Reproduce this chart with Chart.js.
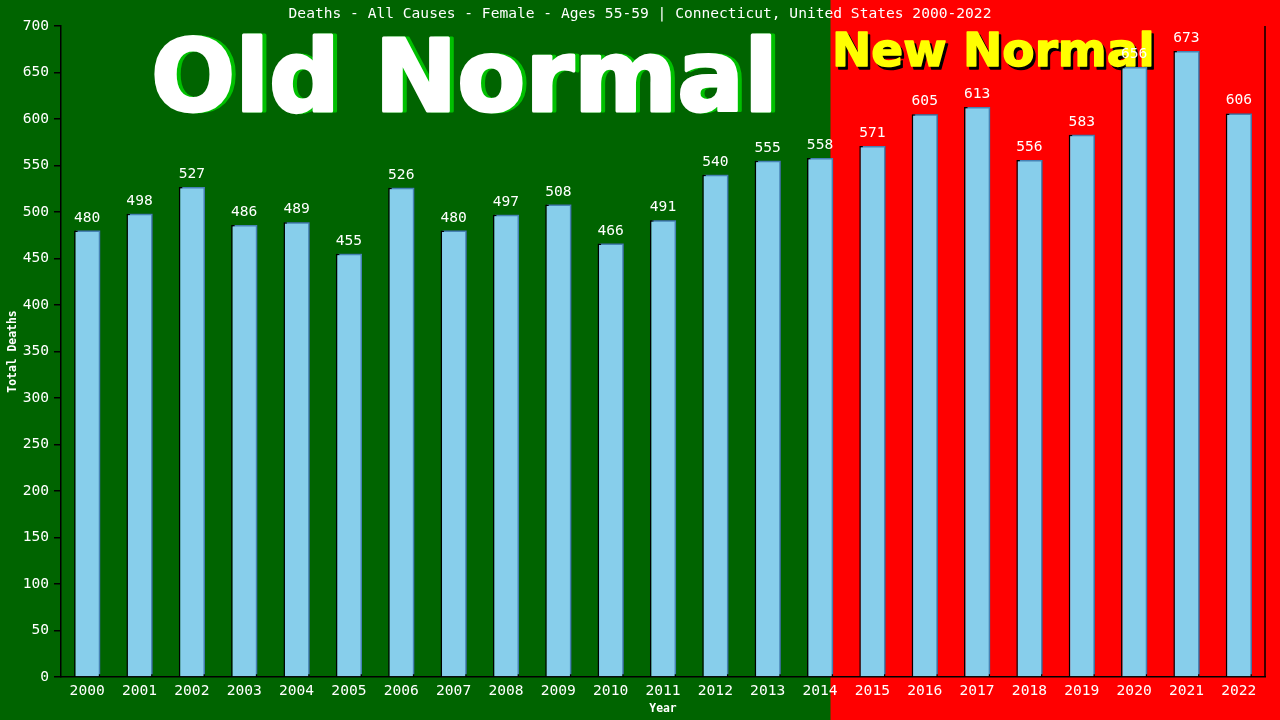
<!DOCTYPE html>
<html>
<head>
<meta charset="utf-8">
<script src="https://cdn.jsdelivr.net/npm/chart.js@4"></script>
<style>
  html, body { margin: 0; padding: 0; background: #006400; }
  #wrap { width: 1280px; height: 720px; position: relative; }
</style>
</head>
<body>
<div id="wrap"><canvas id="c" width="1280" height="720"></canvas></div>
<script>
const years = ['2000','2001','2002','2003','2004','2005','2006','2007','2008','2009','2010','2011','2012','2013','2014','2015','2016','2017','2018','2019','2020','2021','2022'];
const deaths = [480,498,527,486,489,455,526,480,497,508,466,491,540,555,558,571,605,613,556,583,656,673,606];
const yTicks = [0,50,100,150,200,250,300,350,400,450,500,550,600,650,700];
const titleText = 'Deaths - All Causes - Female - Ages 55-59 | Connecticut, United States 2000-2022';
const oldLabel = 'Old Normal';
const newLabel = 'New Normal';
const splitIndex = 14.2;

const MONO = '"DejaVu Sans Mono", "Liberation Mono", monospace';
const SANSB = '"DejaVu Sans", Verdana, sans-serif';

function heavyText(ctx, text, x, y, color, w) {
  ctx.fillStyle = color;
  ctx.strokeStyle = color;
  ctx.lineWidth = w;
  ctx.lineJoin = 'round';
  ctx.strokeText(text, x, y);
  ctx.fillText(text, x, y);
}

const bgPlugin = {
  id: 'bg',
  beforeDraw(chart) {
    const ctx = chart.ctx;
    const x = chart.scales.x;
    const split = x.getPixelForValue(splitIndex);
    ctx.save();
    ctx.fillStyle = '#006400';
    ctx.fillRect(0, 0, split, chart.height);
    ctx.fillStyle = '#FF0000';
    ctx.fillRect(split, 0, chart.width - split, chart.height);
    // title
    ctx.fillStyle = '#FFFFFF';
    ctx.font = '14.6px ' + MONO;
    ctx.textAlign = 'center';
    ctx.textBaseline = 'alphabetic';
    ctx.fillText(titleText, 640, 18);
    // Old Normal
    ctx.textAlign = 'left';
    ctx.font = 'bold 99px ' + SANSB;
    heavyText(ctx, oldLabel, 155, 111, '#00C000', 3);
    heavyText(ctx, oldLabel, 151, 111, '#FFFFFF', 3);
    // New Normal
    ctx.font = 'bold 47px ' + SANSB;
    heavyText(ctx, newLabel, split + 4, 69, '#000000', 1.5);
    heavyText(ctx, newLabel, split + 1.5, 66, '#FFFF00', 1.5);
    ctx.restore();
  },
  beforeDatasetsDraw(chart) {
    const ctx = chart.ctx;
    ctx.save();
    ctx.shadowColor = '#4682B4';
    ctx.shadowOffsetX = 2;
    ctx.shadowOffsetY = -2;
    ctx.shadowBlur = 0;
  },
  afterDatasetsDraw(chart) {
    const ctx = chart.ctx;
    ctx.restore();
    const meta = chart.getDatasetMeta(0);
    ctx.save();
    ctx.fillStyle = '#FFFFFF';
    ctx.font = '14.6px ' + MONO;
    ctx.textAlign = 'center';
    ctx.textBaseline = 'alphabetic';
    meta.data.forEach((bar, i) => {
      ctx.fillText(String(deaths[i]), bar.x, bar.y - 9);
    });
    const a = chart.chartArea;
    ctx.strokeStyle = '#000000';
    ctx.lineWidth = 1.5;
    ctx.beginPath();
    ctx.moveTo(a.right, a.top);
    ctx.lineTo(a.right, a.bottom);
    ctx.stroke();
    ctx.restore();
  }
};

new Chart(document.getElementById('c'), {
  type: 'bar',
  data: {
    labels: years,
    datasets: [{
      data: deaths,
      backgroundColor: '#87CEEB',
      borderColor: '#000000',
      borderWidth: 1.5,
      barPercentage: 0.5,
      categoryPercentage: 1.0
    }]
  },
  options: {
    responsive: false,
    animation: false,
    devicePixelRatio: 1,
    layout: { padding: { top: 26, right: 15, bottom: 0, left: 0 } },
    plugins: { legend: { display: false }, title: { display: false }, tooltip: { enabled: false } },
    scales: {
      x: {
        grid: { display: false, drawTicks: false },
        border: { color: '#000000', width: 1.5 },
        ticks: { color: '#FFFFFF', font: { family: MONO, size: 14.6 }, padding: 5, maxRotation: 0, autoSkip: false },
        title: { display: true, text: 'Year', color: '#FFFFFF', font: { family: MONO, size: 11.4, weight: 'bold' }, padding: { top: 2, bottom: 4 } },
        afterFit(scale) { scale.height = 43; }
      },
      y: {
        min: 0, max: 700,
        afterBuildTicks(scale) { scale.ticks = yTicks.map(v => ({ value: v })); },
        grid: { drawOnChartArea: false, drawTicks: true, tickLength: 7, color: '#000000', lineWidth: 1.5 },
        border: { color: '#000000', width: 1.5 },
        ticks: { color: '#FFFFFF', font: { family: MONO, size: 14.6 }, padding: 5 },
        title: { display: true, text: 'Total Deaths', color: '#FFFFFF', font: { family: MONO, size: 11.4, weight: 'bold' }, padding: { top: 6, bottom: 0 } },
        afterFit(scale) { scale.width = 61; }
      }
    }
  },
  plugins: [bgPlugin]
});
</script>
</body>
</html>
